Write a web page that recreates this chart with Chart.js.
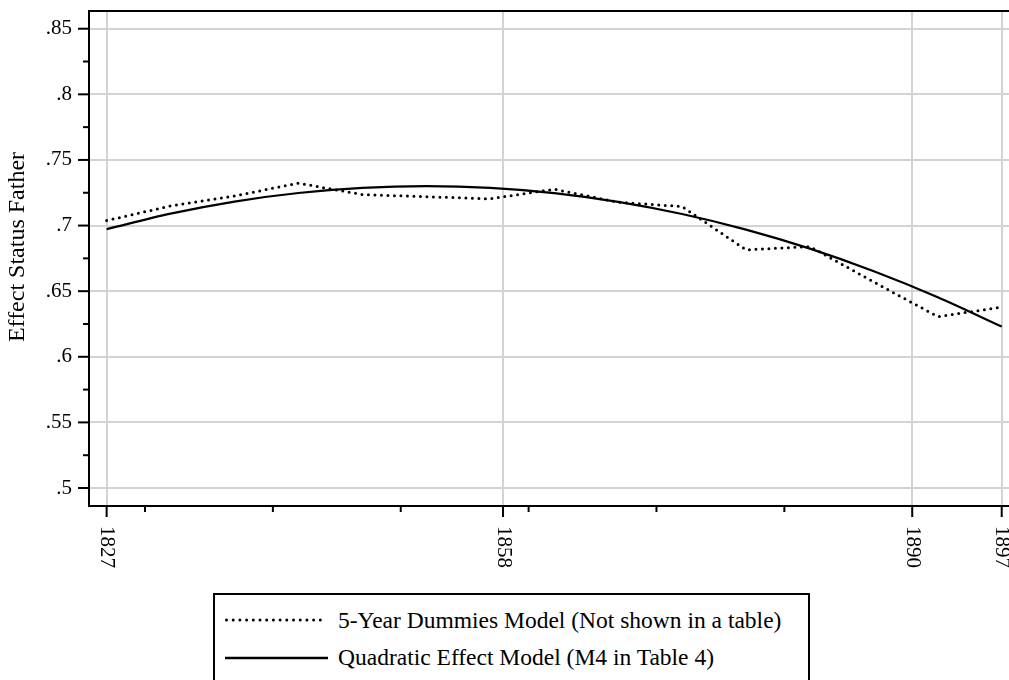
<!DOCTYPE html>
<html><head><meta charset="utf-8">
<script src="https://cdn.jsdelivr.net/npm/chart.js@4/dist/chart.umd.min.js"></script>
<style>
html,body{margin:0;padding:0;background:#fff;overflow:hidden;}
#wrap{position:relative;width:1009px;height:680px;}
#legend{position:absolute;left:213px;top:593px;width:597px;height:120px;border:2px solid #000;box-sizing:border-box;background:#fff;
  font-family:"Liberation Serif","Times New Roman",serif;font-size:23.5px;color:#000;}
.item{position:absolute;left:10px;height:30px;display:flex;align-items:center;white-space:nowrap;}
.item svg{margin-right:10px;display:block;}
</style></head>
<body>
<div id="wrap">
  <canvas id="c" width="1009" height="680"></canvas>
  <div id="legend"></div>
</div>
<script>
// ---- data ----
const years = [1827,1832,1837,1842,1847,1852,1857,1862,1867,1872,1877,1882,1887,1892,1897];
const dummiesModel = [0.7038,0.7150,0.7226,0.7323,0.7236,0.7220,0.7204,0.7277,0.7178,0.7145,0.6815,0.6840,0.6570,0.6306,0.6378];
const quadraticModel = [0.6973,0.7091,0.7183,0.7248,0.7287,0.7300,0.7287,0.7247,0.7180,0.7088,0.6969,0.6824,0.6652,0.6454,0.6230];
const seriesLabels = ["5-Year Dummies Model (Not shown in a table)", "Quadratic Effect Model (M4 in Table 4)"];
const xMajorTicks = [1827,1858,1890,1897];
const xMinorTicks = [1830,1840,1850,1860,1870,1880];
const yMajorTicks = [0.5,0.55,0.6,0.65,0.7,0.75,0.8,0.85];
const yMinorTicks = [0.525,0.575,0.625,0.675,0.725,0.775,0.825];
const yTitle = "Effect Status Father";

const SERIF = '"Liberation Serif","Times New Roman",serif';
const fmtY = v => String(+v.toFixed(2)).replace(/^0/, '');

const decor = {
  id: 'decor',
  afterDraw(chart) {
    const {ctx, chartArea: ca, scales: {x, y}} = chart;
    ctx.save();
    ctx.strokeStyle = '#000';
    ctx.lineWidth = 2;
    ctx.lineCap = 'butt';
    const seg = (x1, y1, x2, y2) => { ctx.beginPath(); ctx.moveTo(x1, y1); ctx.lineTo(x2, y2); ctx.stroke(); };
    // top frame line
    seg(ca.left - 1, ca.top, ca.right, ca.top);
    // x ticks
    xMajorTicks.forEach(v => { const p = x.getPixelForValue(v); seg(p, ca.bottom, p, ca.bottom + 11); });
    xMinorTicks.forEach(v => { const p = x.getPixelForValue(v); seg(p, ca.bottom, p, ca.bottom + 6); });
    // y ticks
    yMajorTicks.forEach(v => { const p = y.getPixelForValue(v); seg(ca.left - 11, p, ca.left, p); });
    yMinorTicks.forEach(v => { const p = y.getPixelForValue(v); seg(ca.left - 6, p, ca.left, p); });
    // x tick labels (rotated clockwise)
    ctx.fillStyle = '#000';
    ctx.font = '21px ' + SERIF;
    ctx.textAlign = 'left';
    ctx.textBaseline = 'middle';
    xMajorTicks.forEach(v => {
      const p = x.getPixelForValue(v);
      ctx.save(); ctx.translate(p, ca.bottom + 20); ctx.rotate(Math.PI / 2);
      ctx.fillText(String(v), 0, 0); ctx.restore();
    });
    // y axis title
    ctx.font = '24px ' + SERIF;
    ctx.textAlign = 'center';
    ctx.save(); ctx.translate(18, 247); ctx.rotate(-Math.PI / 2);
    ctx.fillText(yTitle, 0, 0); ctx.restore();
    ctx.restore();
  }
};

new Chart(document.getElementById('c'), {
  type: 'line',
  data: {
    datasets: [
      {
        label: seriesLabels[0],
        data: years.map((yr, i) => ({x: yr, y: dummiesModel[i]})),
        borderColor: '#000', borderWidth: 3, borderDash: [0, 6.5], borderCapStyle: 'round',
        tension: 0, pointRadius: 0, fill: false
      },
      {
        label: seriesLabels[1],
        data: years.map((yr, i) => ({x: yr, y: quadraticModel[i]})),
        borderColor: '#000', borderWidth: 2.2, cubicInterpolationMode: 'monotone',
        pointRadius: 0, fill: false
      }
    ]
  },
  options: {
    responsive: false,
    animation: false,
    events: [],
    layout: {padding: {top: 11, right: 0, bottom: 0, left: 0}},
    plugins: {legend: {display: false}, tooltip: {enabled: false}, title: {display: false}},
    scales: {
      x: {
        type: 'linear', position: 'bottom',
        min: 1825.62, max: 1897.57,
        afterBuildTicks: s => { s.ticks = xMajorTicks.map(v => ({value: v})); },
        afterFit: s => { s.height = 174; s.paddingLeft = 0; s.paddingRight = 0; },
        ticks: {display: false},
        grid: {color: '#d3d3d3', lineWidth: 2, drawTicks: false},
        border: {color: '#000', width: 2}
      },
      y: {
        type: 'linear', position: 'left',
        min: 0.4863, max: 0.8635,
        afterBuildTicks: s => { s.ticks = yMajorTicks.map(v => ({value: v})); },
        afterFit: s => { s.width = 89; s.paddingTop = 0; s.paddingBottom = 0; },
        ticks: {
          autoSkip: false, padding: 17, color: '#000',
          font: {family: SERIF, size: 21, lineHeight: 1},
          callback: v => fmtY(v)
        },
        grid: {color: '#d3d3d3', lineWidth: 2, drawTicks: false},
        border: {color: '#000', width: 2}
      }
    }
  },
  plugins: [decor]
});

// ---- legend (HTML) ----
const legend = document.getElementById('legend');
const samples = [
  '<line x1="1.5" y1="3" x2="101.5" y2="3" stroke="#000" stroke-width="3" stroke-dasharray="0 6.7" stroke-linecap="round"/>',
  '<line x1="0" y1="3" x2="103" y2="3" stroke="#000" stroke-width="2.4"/>'
];
const centers = [25, 62.7];
seriesLabels.forEach((lab, i) => {
  const d = document.createElement('div');
  d.className = 'item';
  d.style.top = (centers[i] - 15) + 'px';
  d.innerHTML = '<svg width="103" height="6" viewBox="0 0 103 6">' + samples[i] + '</svg><span>' + lab + '</span>';
  legend.appendChild(d);
});
</script>
</body></html>
